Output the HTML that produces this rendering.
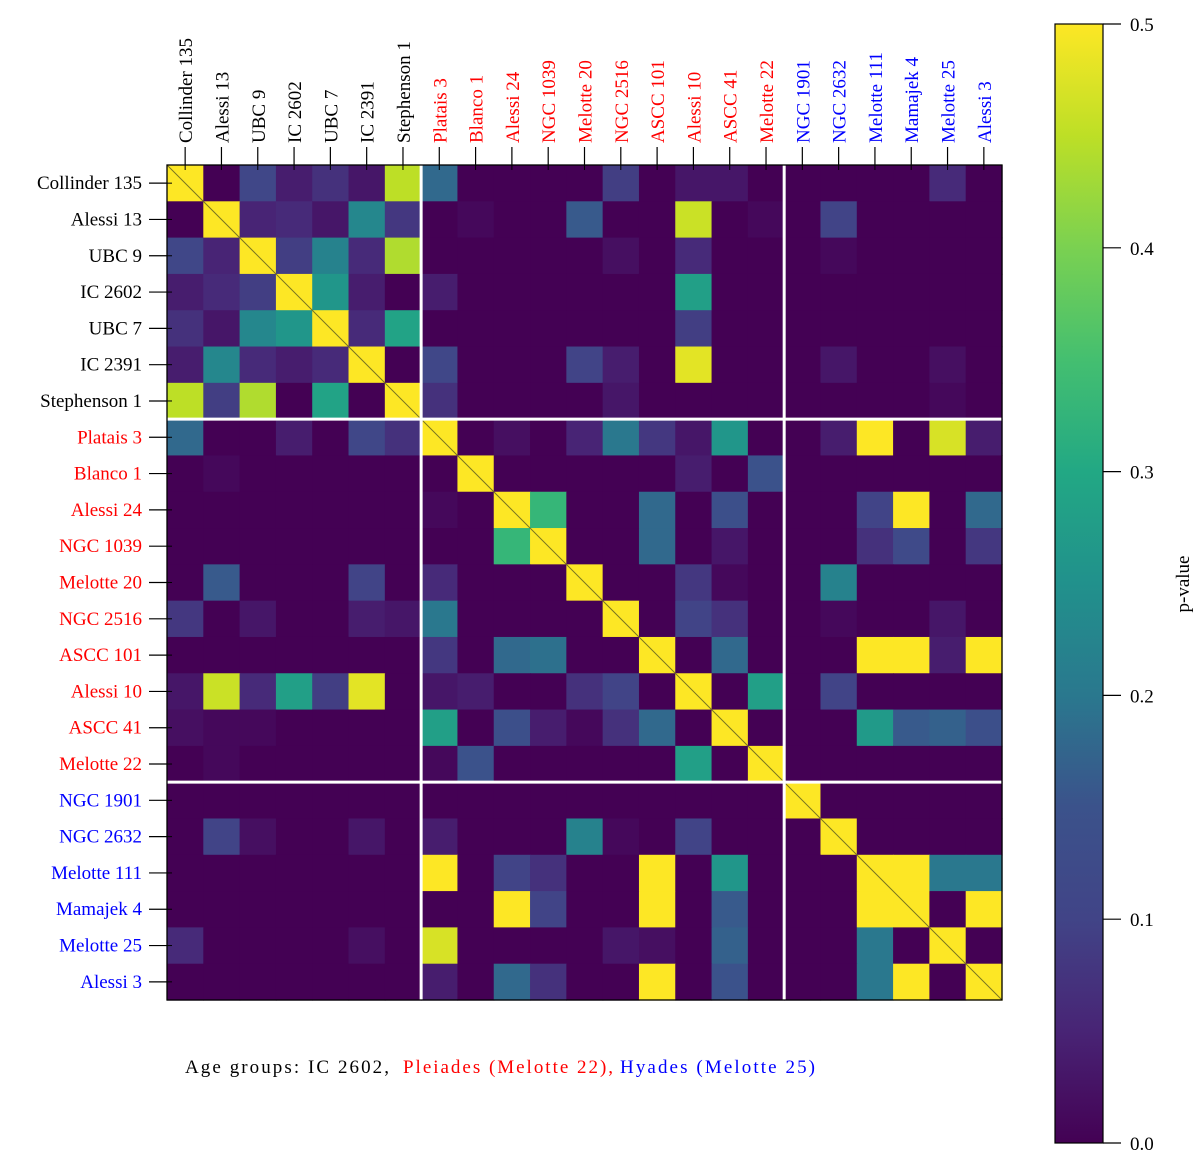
<!DOCTYPE html>
<html><head><meta charset="utf-8"><style>
body{margin:0;background:#fff;}
svg{display:block;font-family:"Liberation Serif",serif;}
</style></head><body>
<svg id="chart" width="1200" height="1160"></svg>
<script>
const clusters=["Collinder 135","Alessi 13","UBC 9","IC 2602","UBC 7","IC 2391","Stephenson 1","Platais 3","Blanco 1","Alessi 24","NGC 1039","Melotte 20","NGC 2516","ASCC 101","Alessi 10","ASCC 41","Melotte 22","NGC 1901","NGC 2632","Melotte 111","Mamajek 4","Melotte 25","Alessi 3"];
const groupOf=[0,0,0,0,0,0,0,1,1,1,1,1,1,1,1,1,1,2,2,2,2,2,2];
const groupColors=["#000000","#ff0000","#0000ff"];
const cbTicks=[0,0.1,0.2,0.3,0.4,0.5];
const row0=[0.5,0,0.11,0.04,0.07,0.03,0.45,0.18,0,0,0,0,0.09,0,0.03,0.03,0,0,0,0,0,0.06,0];
const row1=[0,0.5,0.05,0.06,0.03,0.23,0.08,0,0.01,0,0,0.16,0,0,0.46,0,0.01,0,0.1,0,0,0,0];
const row2=[0.11,0.05,0.5,0.09,0.22,0.06,0.44,0,0,0,0,0,0.02,0,0.06,0,0,0,0.01,0,0,0,0];
const row3=[0.04,0.06,0.09,0.5,0.26,0.04,0,0.04,0,0,0,0,0,0,0.28,0,0,0,0,0,0,0,0];
const row4=[0.07,0.03,0.23,0.26,0.5,0.06,0.29,0,0,0,0,0,0,0,0.09,0,0,0,0,0,0,0,0];
const row5=[0.04,0.23,0.06,0.04,0.06,0.5,0,0.11,0,0,0,0.1,0.04,0,0.48,0,0,0,0.03,0,0,0.02,0];
const row6=[0.45,0.09,0.44,0,0.29,0,0.5,0.07,0,0,0,0,0.03,0,0,0,0,0,0,0,0,0.01,0];
const row7=[0.18,0,0,0.04,0,0.11,0.07,0.5,0,0.02,0,0.05,0.2,0.08,0.03,0.26,0,0,0.04,0.5,0,0.47,0.04];
const row8=[0,0.01,0,0,0,0,0,0,0.5,0,0,0,0,0,0.04,0,0.15,0,0,0,0,0,0];
const row9=[0,0,0,0,0,0,0,0.01,0,0.5,0.33,0,0,0.18,0,0.14,0,0,0,0.1,0.5,0,0.18];
const row10=[0,0,0,0,0,0,0,0,0,0.33,0.5,0,0,0.18,0,0.03,0,0,0,0.07,0.12,0,0.08];
const row11=[0,0.16,0,0,0,0.1,0,0.06,0,0,0,0.5,0,0,0.08,0.01,0,0,0.22,0,0,0,0];
const row12=[0.08,0,0.03,0,0,0.04,0.03,0.2,0,0,0,0,0.5,0,0.1,0.07,0,0,0.01,0,0,0.03,0];
const row13=[0,0,0,0,0,0,0,0.08,0,0.18,0.19,0,0,0.5,0,0.18,0,0,0,0.5,0.5,0.04,0.5];
const row14=[0.03,0.46,0.06,0.28,0.09,0.48,0,0.03,0.04,0,0,0.07,0.1,0,0.5,0,0.28,0,0.1,0,0,0,0];
const row15=[0.02,0.01,0.01,0,0,0,0,0.28,0,0.14,0.04,0.01,0.07,0.18,0,0.5,0,0,0,0.27,0.16,0.17,0.14];
const row16=[0,0.01,0,0,0,0,0,0.01,0.15,0,0,0,0,0,0.28,0,0.5,0,0,0,0,0,0];
const row17=[0,0,0,0,0,0,0,0,0,0,0,0,0,0,0,0,0,0.5,0,0,0,0,0];
const row18=[0,0.1,0.02,0,0,0.03,0,0.04,0,0,0,0.22,0.01,0,0.1,0,0,0,0.5,0,0,0,0];
const row19=[0,0,0,0,0,0,0,0.5,0,0.1,0.07,0,0,0.5,0,0.26,0,0,0,0.5,0.5,0.2,0.2];
const row20=[0,0,0,0,0,0,0,0,0,0.5,0.1,0,0,0.5,0,0.16,0,0,0,0.5,0.5,0,0.5];
const row21=[0.06,0,0,0,0,0.02,0,0.47,0,0,0,0,0.03,0.02,0,0.17,0,0,0,0.2,0,0.5,0];
const row22=[0,0,0,0,0,0,0,0.04,0,0.18,0.07,0,0,0.5,0,0.15,0,0,0,0.2,0.5,0,0.5];
const values=[row0,row1,row2,row3,row4,row5,row6,row7,row8,row9,row10,row11,row12,row13,row14,row15,row16,row17,row18,row19,row20,row21,row22];

const NS="http://www.w3.org/2000/svg";
const svg=document.getElementById('chart');
function mk(tag,attrs,parent){const e=document.createElementNS(NS,tag);for(const k in attrs)e.setAttribute(k,attrs[k]);(parent||svg).appendChild(e);return e;}
const VIR=[[68,1,84],[72,36,117],[65,68,135],[59,82,139],[42,120,142],[33,145,140],[34,168,132],[68,191,112],[122,209,81],[189,223,38],[253,231,37]];
const VIRT=[0,0.1,0.2,0.3,0.4,0.5,0.6,0.7,0.8,0.9,1];
function viridis(v){let t=Math.max(0,Math.min(1,v/0.5));let i=0;while(i<VIRT.length-2&&t>VIRT[i+1])i++;const f=(t-VIRT[i])/(VIRT[i+1]-VIRT[i]);const a=VIR[i],b=VIR[i+1];return `rgb(${Math.round(a[0]+(b[0]-a[0])*f)},${Math.round(a[1]+(b[1]-a[1])*f)},${Math.round(a[2]+(b[2]-a[2])*f)})`;}

const X0=167,Y0=165,X1=1002,Y1=1000,N=clusters.length;
const cw=(X1-X0)/N,ch=(Y1-Y0)/N;
const xPos=i=>X0+i*cw, yPos=i=>Y0+i*ch;

const cells=mk('g',{});


for(let r=0;r<N;r++)for(let c=0;c<N;c++){
  const el=mk('rect',{x:xPos(c),y:yPos(r),width:cw+0.6,height:ch+0.6,fill:viridis(values[r][c])},cells);
  
  
}
const diag=mk('line',{x1:X0,y1:Y0,x2:X1,y2:Y1,stroke:'#5a5a20','stroke-width':1,opacity:0.8});


[7,17].forEach(k=>{
  const h=mk('line',{x1:X0,x2:X1,y1:yPos(k),y2:yPos(k),stroke:'#fff','stroke-width':3});
  
  
  const v=mk('line',{y1:Y0,y2:Y1,x1:xPos(k),x2:xPos(k),stroke:'#fff','stroke-width':3});
  
  
});
const frame=mk('rect',{x:X0,y:Y0,width:X1-X0,height:Y1-Y0,fill:'none',stroke:'#000','stroke-width':1.3});



for(let i=0;i<N;i++){
  const cx=xPos(i)+cw/2, cy=yPos(i)+ch/2, col=groupColors[groupOf[i]];
  mk('line',{x1:cx,x2:cx,y1:Y0-18,y2:Y0,stroke:'#000','stroke-width':1.2});
  mk('line',{x1:cx,x2:cx,y1:Y0,y2:Y0+5,stroke:'#000','stroke-width':1});
  mk('line',{x1:X0-18,x2:X0,y1:cy,y2:cy,stroke:'#000','stroke-width':1.2});
  mk('line',{x1:X0,x2:X0+5,y1:cy,y2:cy,stroke:'#000','stroke-width':1});
  const tl=mk('text',{x:0,y:0,transform:`translate(${cx+7},${Y0-22}) rotate(-90)`,'font-size':19,fill:col});
  tl.textContent=clusters[i];
  
  
  const ll=mk('text',{x:X0-25,y:cy+6,'text-anchor':'end','font-size':19,fill:col});
  ll.textContent=clusters[i];
  
  
}

// colorbar
const CBX=1055,CBW=48,CBT=24,CBB=1143;
const defs=mk('defs',{});
const grad=mk('linearGradient',{id:'vg',x1:0,y1:1,x2:0,y2:0},defs);
VIR.forEach((c,i)=>mk('stop',{offset:VIRT[i],'stop-color':`rgb(${c[0]},${c[1]},${c[2]})`},grad));
const cb=mk('rect',{x:CBX,y:CBT,width:CBW,height:CBB-CBT,fill:'url(#vg)',stroke:'#000','stroke-width':1.2});


const cbY=v=>CBB-(v/0.5)*(CBB-CBT);
cbTicks.forEach(v=>{
  mk('line',{x1:CBX+CBW,x2:CBX+CBW+18,y1:cbY(v),y2:cbY(v),stroke:'#000','stroke-width':1.2});
  const t=mk('text',{x:CBX+CBW+27,y:cbY(v)+7,'font-size':19});
  t.textContent=v.toFixed(1);
  
  
});
const cbl=mk('text',{transform:'translate(1189,584) rotate(-90)','text-anchor':'middle','font-size':19});
cbl.textContent='p-value';



const n1=mk('text',{x:185,y:1073,'font-size':19,fill:'#000',textLength:204,lengthAdjust:'spacing'});
n1.textContent='Age groups:  IC 2602,';


const n2=mk('text',{x:403,y:1073,'font-size':19,fill:'#ff0000',textLength:210,lengthAdjust:'spacing'});
n2.textContent='Pleiades (Melotte 22),';


const n3=mk('text',{x:620,y:1073,'font-size':19,fill:'#0000ff',textLength:195,lengthAdjust:'spacing'});
n3.textContent='Hyades (Melotte 25)';


</script>
</body></html>
